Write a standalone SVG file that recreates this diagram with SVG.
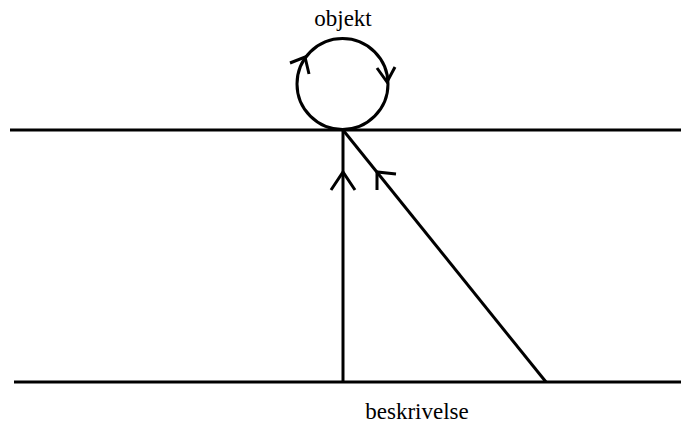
<svg xmlns="http://www.w3.org/2000/svg" width="685" height="425" viewBox="0 0 685 425">
<style>
.l{stroke:#000;stroke-width:3;fill:none;stroke-linecap:butt}
.t{font-family:"Liberation Serif",serif;font-size:23px;fill:#000}
</style>
<rect width="685" height="425" fill="#fff"/>
<g id="connectors">
<line class="l" x1="10" y1="130" x2="681" y2="130"/>
<line class="l" x1="14" y1="382" x2="681" y2="382"/>
<line class="l" x1="343" y1="130" x2="343" y2="382"/>
<line class="l" x1="343" y1="130" x2="546" y2="382"/>
<polyline class="l" points="331,190 343,172 355,190"/>
<polyline class="l" points="377,190 377,172 396,174"/>
</g>
<g id="objekt">
<circle class="l" cx="342.5" cy="84" r="45.5"/>
<polyline class="l" points="290,63 305,57 309,74"/>
<polyline class="l" points="377,68 387,82 395,67"/>
<text class="t" x="343" y="26" text-anchor="middle">objekt</text>
</g>
<g id="beskrivelse">
<text class="t" x="417" y="419" text-anchor="middle">beskrivelse</text>
</g>
</svg>
